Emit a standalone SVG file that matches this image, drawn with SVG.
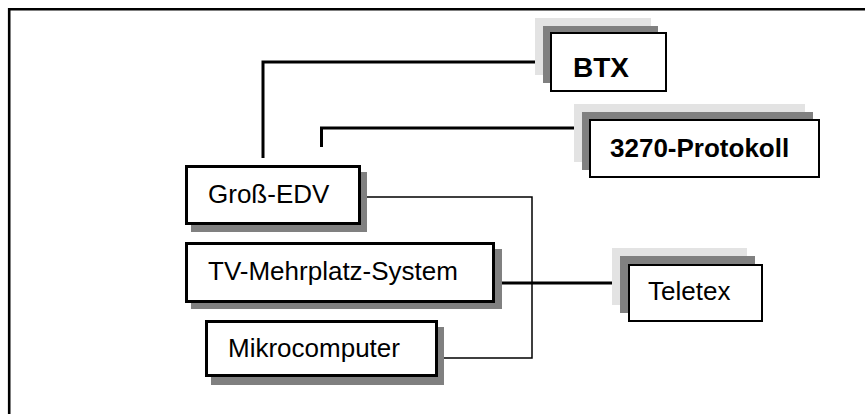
<svg xmlns="http://www.w3.org/2000/svg" width="865" height="414" viewBox="0 0 865 414">
<style>
.t{font-family:"Liberation Sans",Arial,sans-serif;font-size:26px;fill:#000}
.b{font-weight:bold}
.box{fill:#fff;stroke:#000;stroke-width:3}
.sbox{fill:#fff;stroke:#000;stroke-width:2}
.sh{fill:#808080}
.lt{fill:#e3e3e3}
.c{fill:none;stroke:#000;stroke-width:3}
.thin{fill:none;stroke:#000;stroke-width:1.5}
</style>
<rect width="865" height="414" fill="#fff"/>
<path d="M9.2,414 V9.2 H865" fill="none" stroke="#000" stroke-width="2.6"/>
<g id="connectors">
<path class="c" d="M263,158 V62 H550"/>
<path class="c" d="M321.5,147 V128 H589"/>
<path class="thin" d="M361,197 H532 V358 H438"/>
<path class="c" d="M495,283 H612"/>
</g>
<g id="btx">
<rect class="lt" x="535" y="18" width="116" height="57"/>
<rect class="sh" x="543" y="26" width="115" height="57"/>
<rect class="sbox" x="551" y="33" width="115" height="58"/>
<text class="t b" x="573" y="77" style="font-size:28px">BTX</text>
</g>
<g id="protokoll">
<rect class="lt" x="574" y="104" width="231" height="58"/>
<rect class="sh" x="582" y="112" width="231" height="58"/>
<rect class="sbox" x="590" y="120" width="229" height="57"/>
<text class="t b" x="610" y="157">3270-Protokoll</text>
</g>
<g id="teletex">
<rect class="lt" x="612" y="248" width="135" height="57"/>
<rect class="sh" x="620" y="256" width="135" height="57"/>
<rect class="sbox" x="629" y="265" width="133" height="56"/>
<text class="t" x="648" y="300">Teletex</text>
</g>
<g id="gross-edv">
<rect class="sh" x="191" y="172" width="176" height="60"/>
<rect class="box" x="186.5" y="166.5" width="173" height="57"/>
<text class="t" x="208" y="203">Groß-EDV</text>
</g>
<g id="tv">
<rect class="sh" x="191" y="249" width="311" height="60"/>
<rect class="box" x="186.5" y="243.5" width="307" height="58"/>
<text class="t" x="208" y="280">TV-Mehrplatz-System</text>
</g>
<g id="mikro">
<rect class="sh" x="211" y="327" width="233" height="58"/>
<rect class="box" x="206.5" y="321.5" width="230" height="54"/>
<text class="t" x="228" y="357">Mikrocomputer</text>
</g>
</svg>
